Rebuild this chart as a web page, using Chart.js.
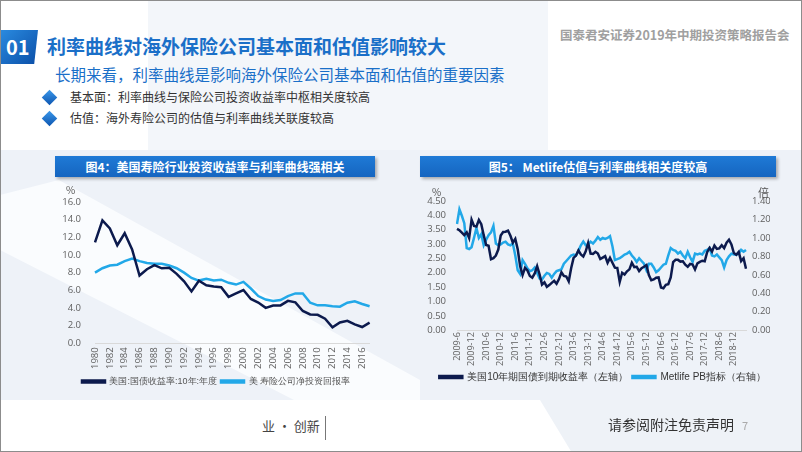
<!DOCTYPE html>
<html>
<head>
<meta charset="utf-8">
<script src="https://cdn.jsdelivr.net/npm/chart.js@4.4.1/dist/chart.umd.min.js"></script>
<style>
html, body { margin: 0; padding: 0; }
body {
    width: 802px; height: 452px; position: relative; overflow: hidden;
    background: #fff;
    font-family: "Noto Sans CJK SC", "Noto Sans", sans-serif;
}
.abs { position: absolute; }
.bg-top { left: 148px; top: 0; width: 400px; height: 150px; background: #f3f6fa; }
.bg-low { left: 0; top: 150px; width: 802px; height: 250px; background: #eef2f8; }
.bg-band { left: 0; top: 150px; width: 420px; height: 250px; background: #fafcfe;
    clip-path: polygon(0 18%, 14% 12%, 100% 92%, 100% 100%, 70% 100%, 0 40%); }
.bg-foot { left: 540px; top: 400px; width: 262px; height: 52px; background: #eef2f7;
    clip-path: polygon(0 0, 100% 0, 100% 100%, 12% 100%); }
.frame { left: 0; top: 0; width: 800px; height: 450px; border: 1px solid #8c8c8c; }
.num {
    left: 0; top: 30px; width: 38px; height: 34px; color: #fff; font-weight: bold;
    font-size: 20px; line-height: 34px; text-indent: 6px;
    background: linear-gradient(135deg, #2a8be0, #0b4fa8);
    clip-path: polygon(0 0, 100% 0, 90% 100%, 0 100%);
}
.title { left: 47px; top: 32px; font-size: 19px; font-weight: bold; color: #1a6fc8; }
.sub { left: 55px; top: 63px; font-size: 15.5px; color: #1a6fc8; }
.brand { left: 560px; top: 25px; font-size: 12.5px; font-weight: bold; color: #a0a0a0; }
.dia { width: 11px; height: 11px; transform: rotate(45deg);
    background: linear-gradient(135deg, #3b98ea, #0d55b0); }
.pt { left: 70px; font-size: 12px; color: #333; }
.bar { height: 21px; color: #fff; font-weight: bold; font-size: 12px; line-height: 21px;
    text-align: center; background: linear-gradient(180deg, #1f7ad6, #1565c0);
    box-shadow: 2px 2px 3px rgba(0,0,0,0.3); }
.unit { font-size: 10px; color: #555; }
.foot1 { left: 262px; top: 416px; font-size: 13px; color: #444; }
.vline { left: 325px; top: 416px; width: 1px; height: 24px; background: #777; }
.foot2 { left: 608px; top: 414px; font-size: 14px; color: #333; }
.page { left: 742px; top: 417px; font-size: 11px; color: #aaa; }
canvas { position: absolute; }
</style>
</head>
<body>
<div class="abs bg-top"></div>
<div class="abs bg-low"></div>
<div class="abs bg-band"></div>
<div class="abs bg-foot"></div>

<div class="abs num">01</div>
<div class="abs title">利率曲线对海外保险公司基本面和估值影响较大</div>
<div class="abs brand">国泰君安证券2019年中期投资策略报告会</div>
<div class="abs sub">长期来看，利率曲线是影响海外保险公司基本面和估值的重要因素</div>
<div class="abs dia" style="left:44px;top:92px"></div>
<div class="abs pt" style="top:88px">基本面：利率曲线与保险公司投资收益率中枢相关度较高</div>
<div class="abs dia" style="left:44px;top:113px"></div>
<div class="abs pt" style="top:109px">估值：海外寿险公司的估值与利率曲线关联度较高</div>

<div class="abs bar" style="left:55px;top:156px;width:320px">图4：美国寿险行业投资收益率与利率曲线强相关</div>
<div class="abs bar" style="left:420px;top:156px;width:356px">图5： Metlife估值与利率曲线相关度较高</div>

<canvas id="c1" width="345" height="216" style="left:40px;top:180px"></canvas>
<canvas id="c2" width="364" height="212" style="left:418px;top:180px"></canvas>

<div class="abs unit" style="left:66px;top:182px">%</div>
<div class="abs unit" style="left:432px;top:184px">%</div>
<div class="abs unit" style="left:758px;top:184px;font-size:11px">倍</div>

<div class="abs foot1">业 · 创新</div>
<div class="abs vline"></div>
<div class="abs foot2">请参阅附注免责声明</div>
<div class="abs page">7</div>
<div class="abs frame"></div>

<script>
const NAVY = "#0c1a4d";
const SKY = "#22a8e8";

// 图4: yearly, 1980-2017
const years = [
    "1980", "1981", "1982", "1983", "1984", "1985", "1986", "1987", "1988", "1989",
    "1990", "1991", "1992", "1993", "1994", "1995", "1996", "1997", "1998", "1999",
    "2000", "2001", "2002", "2003", "2004", "2005", "2006", "2007", "2008", "2009",
    "2010", "2011", "2012", "2013", "2014", "2015", "2016", "2017"
];
const ust10yAnnual = [
    11.43, 13.92, 13.01, 11.10, 12.46, 10.62, 7.67, 8.39, 8.85, 8.49,
    8.55, 7.86, 7.01, 5.87, 7.09, 6.57, 6.44, 6.35, 5.26, 5.65,
    6.03, 5.02, 4.61, 4.01, 4.27, 4.29, 4.80, 4.63, 3.66, 3.26,
    3.22, 2.78, 1.80, 2.35, 2.54, 2.14, 1.84, 2.33
];
const lifeNetYield = [
    8.0, 8.5, 8.8, 8.9, 9.3, 9.6, 9.3, 9.1, 9.0, 9.0,
    8.8, 8.5, 8.0, 7.4, 7.1, 7.3, 7.1, 7.2, 6.85, 6.65,
    6.95, 6.2, 5.35, 4.95, 4.8, 4.9, 5.35, 5.65, 5.65, 4.6,
    4.3, 4.3, 4.2, 4.15, 4.6, 4.75, 4.45, 4.2
];
const yTicks1 = [0, 2, 4, 6, 8, 10, 12, 14, 16];

// 图5: monthly, 2009-6 .. 2019-5
const ust10yMonthly = [
    3.53, 3.48, 3.40, 3.31, 3.41, 3.21, 3.85,
    3.63, 3.61, 3.84, 3.69, 3.31, 2.97, 2.94, 2.47, 2.51, 2.60, 2.81, 3.30,
    3.42, 3.43, 3.47, 3.29, 3.05, 3.18, 2.82, 2.23, 1.92, 2.17, 2.08, 1.89,
    1.83, 1.98, 2.23, 1.95, 1.59, 1.67, 1.51, 1.57, 1.65, 1.72, 1.62, 1.78,
    2.02, 1.89, 1.87, 1.70, 2.16, 2.52, 2.60, 2.78, 2.64, 2.57, 2.75, 3.04,
    2.67, 2.66, 2.73, 2.67, 2.48, 2.53, 2.58, 2.35, 2.52, 2.35, 2.18, 2.17,
    1.68, 2.00, 1.94, 2.05, 2.12, 2.35, 2.20, 2.21, 2.06, 2.16, 2.21, 2.27,
    1.92, 1.74, 1.77, 1.83, 1.84, 1.49, 1.46, 1.58, 1.60, 1.84, 2.37, 2.45,
    2.45, 2.39, 2.40, 2.28, 2.21, 2.31, 2.29, 2.12, 2.33, 2.38, 2.42, 2.40,
    2.72, 2.87, 2.74, 2.95, 2.83, 2.85, 2.96, 2.86, 3.05, 3.15, 2.99, 2.69,
    2.63, 2.73, 2.41, 2.51, 2.14
];
const metlifePB = [
    1.15, 1.31, 1.24, 1.16, 0.89, 0.88, 0.90,
    1.00, 1.11, 1.00, 1.04, 0.92, 0.98, 1.03, 1.06, 1.13, 0.94, 0.92, 0.93,
    0.95, 0.96, 0.93, 0.92, 0.94, 0.81, 0.65, 0.61, 0.76, 0.72, 0.67, 0.64,
    0.65, 0.68, 0.62, 0.56, 0.55, 0.59, 0.62, 0.61, 0.57, 0.61, 0.64, 0.65,
    0.66, 0.72, 0.75, 0.78, 0.81, 0.82, 0.81, 0.86, 0.92, 0.96, 0.92, 0.93,
    0.96, 0.94, 0.97, 1.01, 0.98, 1.00, 0.99, 1.00, 1.02, 0.91, 0.76, 0.77,
    0.78, 0.80, 0.82, 0.83, 0.85, 0.81, 0.78, 0.74, 0.78, 0.75, 0.72, 0.65,
    0.72, 0.72, 0.68, 0.63, 0.65, 0.68, 0.71, 0.72, 0.81, 0.89, 0.87, 0.86,
    0.83, 0.85, 0.81, 0.78, 0.85, 0.79, 0.74, 0.83, 0.82, 0.83, 0.82, 0.86,
    0.87, 0.89, 0.81, 0.80, 0.82, 0.79, 0.76, 0.68, 0.76, 0.80, 0.83, 0.82,
    0.82, 0.83, 0.87, 0.85, 0.87
];
const months = [];
for (let y = 2009, m = 6; months.length < ust10yMonthly.length; m++) {
    if (m > 12) { m = 1; y++; }
    months.push(y + "-" + m);
}
const leftTicks2 = [0, 0.5, 1, 1.5, 2, 2.5, 3, 3.5, 4, 4.5];
const rightTicks2 = [0, 0.2, 0.4, 0.6, 0.8, 1.0, 1.2, 1.4];

const tickFont = { size: 9.5, family: "'Open Sans', sans-serif" };
const tickColor = "#606060";
const noGrid = { display: false, drawTicks: false };

function lineSet(label, data, color, axis) {
    return {
        label: label, data: data, yAxisID: axis,
        borderColor: color, backgroundColor: color,
        borderWidth: 2.5, pointRadius: 0, tension: 0
    };
}

new Chart(document.getElementById("c1"), {
    type: "line",
    data: {
        labels: years,
        datasets: [
            lineSet("美国:国债收益率:10年:年度", ust10yAnnual, NAVY, "y"),
            lineSet("美 寿险公司净投资回报率", lifeNetYield, SKY, "y")
        ]
    },
    options: {
        responsive: false,
        animation: false,
        layout: { padding: { top: 22, right: 9, left: 16, bottom: 0 } },
        plugins: {
            legend: {
                position: "bottom",
                labels: { boxWidth: 23, boxHeight: 2, padding: 4, color: "#555",
                    font: { size: 9 } }
            },
            tooltip: { enabled: false }
        },
        scales: {
            x: {
                grid: noGrid,
                border: { color: "#d9d9d9" },
                ticks: {
                    autoSkip: false, maxRotation: 90, minRotation: 90,
                    font: tickFont, color: tickColor, padding: 4,
                    callback: (v, i) => (i % 2 === 0 ? years[i] : "")
                }
            },
            y: {
                min: 0, max: 16,
                afterBuildTicks: s => { s.ticks = yTicks1.map(v => ({ value: v })); },
                afterFit: s => { s.width = 39; },
                grid: noGrid,
                border: { display: false },
                ticks: { autoSkip: false, font: tickFont, color: tickColor, padding: 14,
                    callback: v => v.toFixed(1) }
            }
        }
    }
});

new Chart(document.getElementById("c2"), {
    type: "line",
    data: {
        labels: months,
        datasets: [
            lineSet("美国10年期国债到期收益率（左轴）", ust10yMonthly, NAVY, "y"),
            lineSet("Metlife PB指标（右轴）", metlifePB, SKY, "y1")
        ]
    },
    options: {
        responsive: false,
        animation: false,
        layout: { padding: { top: 21, right: 12, left: 0, bottom: 0 } },
        plugins: {
            legend: {
                position: "bottom",
                align: "end",
                labels: { boxWidth: 23, boxHeight: 2, padding: 4, color: "#333",
                    font: { size: 10 } }
            },
            tooltip: { enabled: false }
        },
        scales: {
            x: {
                grid: noGrid,
                border: { color: "#d9d9d9" },
                ticks: {
                    autoSkip: false, maxRotation: 90, minRotation: 90,
                    font: { size: 9, family: "'Open Sans', sans-serif" },
                    color: tickColor, padding: 2,
                    callback: (v, i) => {
                        const m = months[i].split("-")[1];
                        return (m === "6" || m === "12") ? months[i] : "";
                    }
                }
            },
            y: {
                position: "left", min: 0, max: 4.5,
                afterBuildTicks: s => { s.ticks = leftTicks2.map(v => ({ value: v })); },
                afterFit: s => { s.width = 39; },
                grid: noGrid,
                border: { display: false },
                ticks: { autoSkip: false, font: tickFont, color: tickColor, padding: 11,
                    callback: v => v.toFixed(2) }
            },
            y1: {
                position: "right", min: 0, max: 1.4,
                afterBuildTicks: s => { s.ticks = rightTicks2.map(v => ({ value: v })); },
                afterFit: s => { s.width = 24; },
                grid: noGrid,
                border: { display: false },
                ticks: { autoSkip: false, font: tickFont, color: tickColor, padding: 6,
                    callback: v => v.toFixed(2) }
            }
        }
    }
});
</script>
</body>
</html>
